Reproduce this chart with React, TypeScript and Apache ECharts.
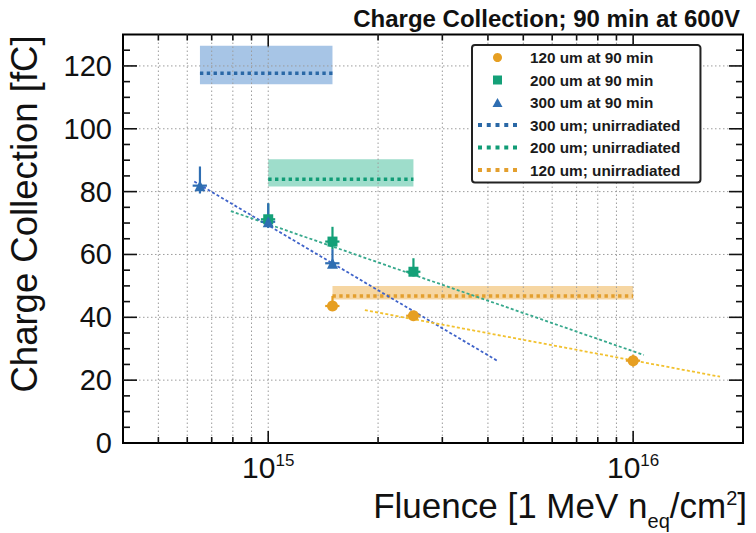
import React, { useEffect, useRef } from 'react';
import * as echarts from 'echarts';

// ---- axis ranges ----
const xMin = 4e14;
const xMax = 2e16;
const yMin = 0;
const yMax = 130;

// ---- tick / grid positions ----
const xGridTicks = [5e14, 6e14, 7e14, 8e14, 9e14, 1e15, 2e15, 3e15, 4e15, 5e15, 6e15, 7e15, 8e15, 9e15, 1e16];
const xMajorTicks = [1e15, 1e16];
const yMajorTicks = [20, 40, 60, 80, 100, 120];
const yMinorTicks = [5, 10, 15, 25, 30, 35, 45, 50, 55, 65, 70, 75, 85, 90, 95, 105, 110, 115, 125];

// ---- measured points (90 min at 600V) ----
const fluence120 = [1.5e15, 2.5e15, 1e16];
const charge120 = [43.6, 40.5, 26.2];
const errUp120 = [3.2, 1.5, 1.9];
const errDn120 = [1.2, 1.5, 1.9];

const fluence200 = [1e15, 1.5e15, 2.5e15];
const charge200 = [71.2, 64.1, 54.5];
const errUp200 = [5.0, 4.7, 4.3];
const errDn200 = [2.0, 2.4, 1.5];

const fluence300 = [6.5e14, 1e15, 1.5e15];
const charge300 = [81.9, 70.4, 57.2];
const errUp300 = [6.1, 5.9, 4.5];
const errDn300 = [2.5, 2.0, 1.5];

const xErrFrac = 0.045;

// ---- fit lines ----
const fit300X = [6.27e14, 4.24e15];
const fit300Y = [83.2, 26.2];
const fit200X = [7.9e14, 1.07e16];
const fit200Y = [73.8, 28.0];
const fit120X = [1.84e15, 1.73e16];
const fit120Y = [42.3, 21.1];

// ---- unirradiated reference bands: [low, central, high] ----
const band300X = [6.5e14, 1.5e15];
const unirr300 = [114.2, 117.7, 126.4];
const band200X = [1e15, 2.5e15];
const unirr200 = [81.6, 83.9, 90.3];
const band120X = [1.5e15, 1e16];
const unirr120 = [45.7, 46.8, 50.0];

const legendNames = [
  '120 um at 90 min',
  '200 um at 90 min',
  '300 um at 90 min',
  '300 um; unirradiated',
  '200 um; unirradiated',
  '120 um; unirradiated',
];
const dotIcon = 'path://M0,0h4v4h-4zM8.75,0h4v4h-4zM17.5,0h4v4h-4zM26.25,0h4v4h-4zM35,0h4v4h-4z';
const legendIcons = [
  'circle',
  'path://M0,0L10,0L10,10L0,10Z',
  'path://M5,0L10,9L0,9Z',
  dotIcon,
  dotIcon,
  dotIcon,
];

const FONT = '"Liberation Sans", Arial, Helvetica, sans-serif';

const cOrange = '#E69F22';
const cGreen = '#14A078';
const cBlue = '#2F6EB2';

function zip(xs: number[], ys: number[]) {
  return xs.map((x, i) => [x, ys[i]]);
}

function errData(xs: number[], ys: number[], up: number[], dn: number[]) {
  return xs.map((x, i) => [x, ys[i], up[i], dn[i]]);
}

function errRender(color: string) {
  return (params: any, api: any) => {
    const x = api.value(0);
    const y = api.value(1);
    const up = api.value(2);
    const dn = api.value(3);
    const top = api.coord([x, y + up]);
    const bot = api.coord([x, y - dn]);
    const l = api.coord([x * (1 - xErrFrac), y]);
    const r = api.coord([x * (1 + xErrFrac), y]);
    return {
      type: 'group',
      children: [
        { type: 'line', shape: { x1: top[0], y1: top[1], x2: bot[0], y2: bot[1] }, style: { stroke: color, lineWidth: 2.2 } },
        { type: 'line', shape: { x1: l[0], y1: l[1], x2: r[0], y2: r[1] }, style: { stroke: color, lineWidth: 2.2 } },
      ],
    };
  };
}

function unirrSeries(name: string, bx: number[], vals: number[], color: string, bandColor: string) {
  return {
    name,
    type: 'line',
    data: [[bx[0], vals[1]], [bx[1], vals[1]]],
    symbol: 'none',
    z: 3,
    lineStyle: { color, width: 3.5, type: [3.4, 3.4] },
    itemStyle: { color },
    markArea: {
      silent: true,
      itemStyle: { color: bandColor },
      data: [[{ coord: [bx[0], vals[2]] }, { coord: [bx[1], vals[0]] }]],
    },
  };
}

function fitSeries(name: string, xs: number[], ys: number[], color: string) {
  return {
    name,
    type: 'line',
    data: zip(xs, ys),
    symbol: 'none',
    z: 4,
    lineStyle: { color, width: 1.8, type: [3, 2.2] },
    silent: true,
  };
}

const option: any = {
  animation: false,
  backgroundColor: '#ffffff',
  grid: {
    left: 123,
    right: 13,
    top: 34.5,
    bottom: 90,
    show: true,
    borderColor: '#000',
    borderWidth: 2,
    backgroundColor: 'transparent',
  },
  xAxis: {
    type: 'log',
    logBase: 10,
    min: xMin,
    max: xMax,
    axisLine: { show: false },
    axisTick: { show: false },
    splitLine: { show: false },
    axisLabel: {
      margin: 9,
      formatter: (v: number) => {
        const e = Math.log10(v);
        if (Math.abs(e - Math.round(e)) > 1e-6) return '';
        return '{b|10}{s|' + Math.round(e) + '}';
      },
      rich: {
        b: { fontSize: 30, lineHeight: 26, fontFamily: FONT, color: '#111', verticalAlign: 'top' },
        s: { fontSize: 17, lineHeight: 9, fontFamily: FONT, color: '#111', verticalAlign: 'top' },
      },
    },
  },
  yAxis: {
    type: 'value',
    min: yMin,
    max: yMax,
    interval: 20,
    axisLine: { show: false },
    axisTick: { show: false },
    splitLine: { show: false },
    axisLabel: {
      margin: 11,
      fontSize: 29,
      fontFamily: FONT,
      color: '#111',
      formatter: (v: number) => (v % 20 === 0 && v <= 120 ? String(v) : ''),
    },
  },
  legend: {
    data: legendNames.map((name, i) => ({ name, icon: legendIcons[i] })),
    orient: 'vertical',
    left: 472,
    top: 45,
    padding: [5, 20, 5, 6],
    itemWidth: 39,
    itemHeight: 9,
    itemGap: 7.5,
    symbolKeepAspect: true,
    backgroundColor: '#fff',
    borderColor: '#222',
    borderWidth: 2,
    borderRadius: 3,
    selectedMode: false,
    textStyle: {
      fontFamily: FONT,
      fontWeight: 'bold',
      fontSize: 15.3,
      lineHeight: 14,
      color: '#1a1a1a',
      padding: [0, 0, 0, 8],
    },
  },
  graphic: [
    {
      type: 'text',
      right: 16,
      top: 6,
      style: {
        text: 'Charge Collection; 90 min at 600V',
        font: 'bold 24px ' + FONT,
        fill: '#111',
      },
    },
    {
      type: 'text',
      x: 24,
      y: 214,
      rotation: Math.PI / 2,
      style: {
        text: 'Charge Collection [fC]',
        font: '36.5px ' + FONT,
        fill: '#111',
        align: 'center',
        verticalAlign: 'middle',
      },
    },
    {
      type: 'text',
      right: 9,
      top: 488,
      style: {
        text: '{t|Fluence [1 MeV n}{sub|eq}{t|/cm}{sup|2}{t|]}',
        fill: '#111',
        rich: {
          t: { fontSize: 35, lineHeight: 28, fontFamily: FONT, fill: '#111', verticalAlign: 'top' },
          sub: { fontSize: 20, lineHeight: 20, padding: [23, 0, 0, 0], fontFamily: FONT, fill: '#111', verticalAlign: 'top' },
          sup: { fontSize: 20, lineHeight: 16, fontFamily: FONT, fill: '#111', verticalAlign: 'top' },
        },
      },
    },
  ],
  series: [
    // grid lines and x ticks
    {
      name: 'xgrid',
      type: 'custom',
      silent: true,
      z: 1,
      clip: false,
      data: xGridTicks.map((v) => [v, xMajorTicks.includes(v) ? 1 : 0]),
      renderItem: (params: any, api: any) => {
        const v = api.value(0);
        const major = api.value(1) === 1;
        const b = api.coord([v, yMin]);
        const t = api.coord([v, yMax]);
        const len = major ? 12 : 6;
        return {
          type: 'group',
          children: [
            { type: 'line', shape: { x1: b[0], y1: t[1], x2: b[0], y2: b[1] }, style: { stroke: '#9c9c9c', lineWidth: 1, lineDash: [1.5, 2.5] } },
            { type: 'line', shape: { x1: b[0], y1: b[1], x2: b[0], y2: b[1] - len }, style: { stroke: '#111', lineWidth: 1.6 } },
            { type: 'line', shape: { x1: b[0], y1: t[1], x2: b[0], y2: t[1] + len }, style: { stroke: '#111', lineWidth: 1.6 } },
          ],
        };
      },
    },
    // y grid lines and ticks
    {
      name: 'ygrid',
      type: 'custom',
      silent: true,
      z: 1,
      clip: false,
      data: [
        ...yMajorTicks.map((v) => [1e15, v, 1]),
        ...yMinorTicks.map((v) => [1e15, v, 0]),
      ],
      renderItem: (params: any, api: any) => {
        const v = api.value(1);
        const major = api.value(2) === 1;
        const l = api.coord([xMin, v]);
        const r = api.coord([xMax, v]);
        const len = major ? 14 : 7;
        const children: any[] = [
          { type: 'line', shape: { x1: l[0], y1: l[1], x2: l[0] + len, y2: l[1] }, style: { stroke: '#111', lineWidth: 1.6 } },
          { type: 'line', shape: { x1: r[0], y1: r[1], x2: r[0] - len, y2: r[1] }, style: { stroke: '#111', lineWidth: 1.6 } },
        ];
        if (major) {
          children.unshift({ type: 'line', shape: { x1: l[0], y1: l[1], x2: r[0], y2: r[1] }, style: { stroke: '#9c9c9c', lineWidth: 1, lineDash: [1.5, 2.5] } });
        }
        return { type: 'group', children };
      },
    },
    // unirradiated bands
    unirrSeries('300 um; unirradiated', band300X, unirr300, '#2A68A6', 'rgba(80,140,205,0.5)'),
    unirrSeries('200 um; unirradiated', band200X, unirr200, '#119C76', 'rgba(40,180,140,0.45)'),
    unirrSeries('120 um; unirradiated', band120X, unirr120, '#E39F2E', 'rgba(235,160,40,0.43)'),
    // fits
    fitSeries('fit300', fit300X, fit300Y, '#3F63C9'),
    fitSeries('fit200', fit200X, fit200Y, '#36A88C'),
    fitSeries('fit120', fit120X, fit120Y, '#F2C12E'),
    // error bars
    { name: 'err120', type: 'custom', z: 5, silent: true, data: errData(fluence120, charge120, errUp120, errDn120), renderItem: errRender(cOrange) },
    { name: 'err200', type: 'custom', z: 5, silent: true, data: errData(fluence200, charge200, errUp200, errDn200), renderItem: errRender(cGreen) },
    { name: 'err300', type: 'custom', z: 5, silent: true, data: errData(fluence300, charge300, errUp300, errDn300), renderItem: errRender(cBlue) },
    // points
    { name: '120 um at 90 min', type: 'scatter', z: 6, symbol: 'circle', symbolSize: 11, itemStyle: { color: cOrange, opacity: 1 }, data: zip(fluence120, charge120) },
    { name: '200 um at 90 min', type: 'scatter', z: 6, symbol: 'rect', symbolSize: 10, itemStyle: { color: cGreen, opacity: 1 }, data: zip(fluence200, charge200) },
    { name: '300 um at 90 min', type: 'scatter', z: 6, symbol: 'triangle', symbolSize: 11, itemStyle: { color: cBlue, opacity: 1 }, data: zip(fluence300, charge300) },
  ],
};

export default function App() {
  const ref = useRef<HTMLDivElement>(null);
  useEffect(() => {
    const chart = echarts.init(ref.current as HTMLDivElement, null, { renderer: 'svg' });
    chart.setOption(option);
    return () => chart.dispose();
  }, []);
  return (
    <div
      ref={ref}
      style={{ position: 'absolute', left: 0, top: 0, width: 756, height: 533, background: '#fff' }}
    />
  );
}
